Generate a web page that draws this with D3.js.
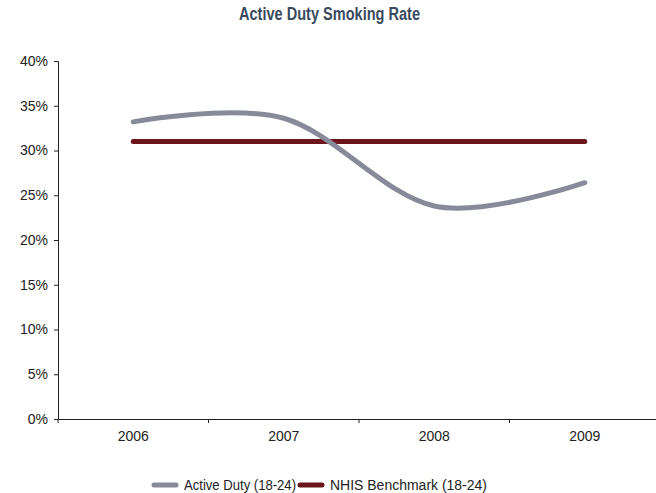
<!DOCTYPE html>
<html lang="en">
<head>
<meta charset="UTF-8" />
<title>Active Duty Smoking Rate</title>
<script src="https://cdn.jsdelivr.net/npm/d3@7"></script>
<style>
  body { margin: 0; background: #fff; }
  svg { display: block; }
</style>
</head>
<body>
<div id="chart"></div>
<script>
// data
const years = ['2006', '2007', '2008', '2009'];
const activeDuty = [33.2, 33.6, 23.8, 26.4];
const nhisBenchmark = [31, 31, 31, 31];
const yTicks = [0, 5, 10, 15, 20, 25, 30, 35, 40];

const width = 656, height = 493;
const margin = { top: 61, right: 0, bottom: 74, left: 58 };
const narrow = '"Liberation Sans", Arial, sans-serif';

const svg = d3.select('#chart').append('svg')
  .attr('width', width).attr('height', height);

const x = d3.scaleBand().domain(years)
  .range([margin.left, 660]);
const y = d3.scaleLinear().domain([0, 40])
  .range([height - margin.bottom, margin.top]);

// title (condensed look via textLength)
svg.append('text')
  .attr('x', 239).attr('y', 20)
  .attr('textLength', 181).attr('lengthAdjust', 'spacingAndGlyphs')
  .style('font-family', narrow)
  .style('font-weight', 'bold')
  .style('font-size', '18px')
  .attr('fill', '#3a4a5e')
  .text('Active Duty Smoking Rate');

// y axis
const yAxis = svg.append('g')
  .attr('transform', `translate(${margin.left},0)`)
  .call(d3.axisLeft(y).tickValues(yTicks).tickSize(4).tickPadding(6)
    .tickFormat(d => d + '%'));
yAxis.selectAll('text')
  .style('font-family', '"Liberation Sans", Arial, sans-serif')
  .style('font-size', '14px').attr('fill', '#222');
yAxis.select('.domain').attr('stroke', '#222');
yAxis.selectAll('.tick line').attr('stroke', '#222');

// x axis, ticks at band boundaries
const xAxis = svg.append('g')
  .attr('transform', `translate(0,${y(0)})`)
  .call(d3.axisBottom(x).tickSize(0).tickPadding(12));
xAxis.selectAll('text')
  .style('font-family', '"Liberation Sans", Arial, sans-serif')
  .style('font-size', '14px').attr('fill', '#222');
xAxis.select('.domain').attr('stroke', '#222');
xAxis.selectAll('.bound')
  .data(years.map(d => x(d)))
  .join('line')
  .attr('class', 'bound')
  .attr('x1', d => d).attr('x2', d => d)
  .attr('y1', 0).attr('y2', 4)
  .attr('stroke', '#222');

const cx = d => x(d) + x.bandwidth() / 2;

// NHIS benchmark
svg.append('path')
  .datum(nhisBenchmark)
  .attr('fill', 'none')
  .attr('stroke', '#6b1419')
  .attr('stroke-width', 5)
  .attr('stroke-linecap', 'round')
  .attr('d', d3.line().x((d, i) => cx(years[i])).y(d => y(d)));

// Active duty smoothed line
svg.append('path')
  .datum(activeDuty)
  .attr('fill', 'none')
  .attr('stroke', '#878a99')
  .attr('stroke-width', 5)
  .attr('stroke-linecap', 'round')
  .attr('d', d3.line().curve(d3.curveCatmullRom.alpha(0))
    .x((d, i) => cx(years[i])).y(d => y(d)));

// legend
const legend = [
  { name: 'Active Duty (18-24)', color: '#878a99', x: 154, w: 112 },
  { name: 'NHIS Benchmark (18-24)', color: '#6b1419', x: 300, w: 157 }
];
const lg = svg.append('g').selectAll('g').data(legend).join('g')
  .attr('transform', d => `translate(${d.x},485)`);
lg.append('line')
  .attr('x1', 0).attr('x2', 22).attr('y1', 0).attr('y2', 0)
  .attr('stroke', d => d.color).attr('stroke-width', 5)
  .attr('stroke-linecap', 'round');
lg.append('text')
  .attr('x', 30).attr('dy', '0.35em')
  .attr('textLength', d => d.w).attr('lengthAdjust', 'spacingAndGlyphs')
  .style('font-family', narrow)
  .style('font-size', '14px').attr('fill', '#222')
  .text(d => d.name);
</script>
</body>
</html>
